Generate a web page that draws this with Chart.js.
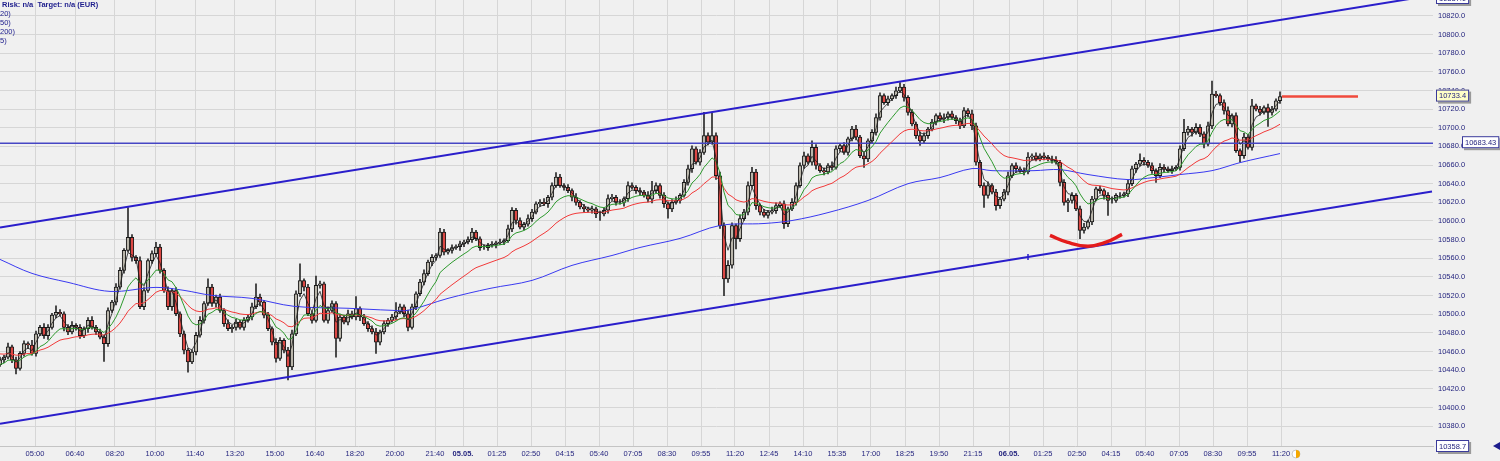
<!DOCTYPE html>
<html>
<head>
<meta charset="utf-8">
<script src="https://cdn.jsdelivr.net/npm/chart.js@4/dist/chart.umd.min.js"></script>
<style>
  html, body { margin: 0; padding: 0; background: #f0f0f0; overflow: hidden; }
</style>
</head>
<body>
<canvas id="priceChart" width="1500" height="461"></canvas>
<script>
// 10-min candles, open = previous close
const closes = [
  10451,10454,10465,10451,10442,10458,10468.5,10467,10458,10479,10486,10477,10486,10499,10502,10500.5,10486,10481,10488,10486,
  10477,10484.5,10493.5,10486,10481,10475.5,10468.5,10504,10513,10529,10547,10568.5,10582.5,10561,10557.5,10508,10525.5,10557.5,10565,10572,
  10547,10525.5,10508,10525.5,10500.5,10479,10461.5,10449,10459.5,10477.5,10493.5,10511.5,10529,10511.5,10518.5,10504,10490,10484.5,10486,10491.5,
  10486,10493.5,10497,10508,10518.5,10513,10499,10484.5,10470,10452.5,10472,10461.5,10443.5,10479,10522,10536,10529,10500.5,10493.5,10531,
  10532.5,10493.5,10504,10511.5,10474,10497,10491.5,10500.5,10497,10506,10497,10490,10484.5,10481,10470,10481,10490,10493.5,10497,10502.5,
  10508,10500.5,10486,10508,10522,10534.5,10543.5,10556,10561,10563,10588,10566.5,10568.5,10571.5,10572.5,10575.5,10577.5,10580,10588,10581,
  10571.5,10571.5,10574,10575,10576.5,10577.5,10579,10591.5,10611.5,10600.5,10593.5,10596.5,10602.5,10609.5,10618.5,10620,10618.5,10625.5,10638,10647,
  10638,10636,10632.5,10625.5,10620,10615,10613,10611.5,10613,10607.5,10607.5,10611.5,10624,10625.5,10620,10620,10624,10638,10636,10632.5,
  10631,10627.5,10623.5,10632.5,10638,10627.5,10618.5,10613,10620,10622,10627.5,10641.5,10656,10677.5,10663,10673.5,10691.5,10684.5,10691.5,10648.5,
  10595,10538,10552.5,10595,10581,10602.5,10609.5,10638,10652.5,10616.5,10609.5,10606,10609.5,10611,10616.5,10618.5,10597,10613,10620,10638,
  10659.5,10670,10663,10679,10659.5,10654,10652.5,10659.5,10657.5,10677.5,10681,10673.5,10688,10698.5,10690,10670,10666.5,10686,10695,10711,
  10734.5,10727,10731,10734.5,10739.5,10743.5,10732.5,10716.5,10704,10691.5,10686,10691.5,10698.5,10706,10713,10709.5,10711,10715,10711,10707.5,
  10702,10718.5,10715,10702,10663,10638,10627.5,10638,10631,10616.5,10623.5,10631,10648.5,10659.5,10656,10654,10652.5,10668.5,10670,10666.5,
  10670,10668.5,10666.5,10665,10663,10641.5,10620,10622,10627.5,10613,10590,10593.5,10599,10623.5,10634.5,10632.5,10627.5,10622,10622,10627.5,
  10627.5,10629,10640,10656,10661,10665,10663,10659.5,10654,10648.5,10657.5,10656,10654,10656,10657.5,10677.5,10695,10698.5,10695,10700.5,
  10693.5,10682.5,10702,10736,10734.5,10727,10718.5,10704,10713,10675.5,10670,10690,10679,10723.5,10720,10716.5,10721.5,10716.5,10720,10729,10733.4
];
const firstOpen = 10446;

// wick length above / below the body, in points
const upWick = [
  3,2,4,2,3,2,3,2,5,3,2,4,3,2,7,3,2,3,4,2,
  3,2,3,4,2,3,2,3,2,4,3,2,32,3,2,4,3,2,3,5,
  3,2,4,2,3,2,3,2,2,3,4,2,9,3,2,3,2,4,2,3,
  2,3,2,4,14,3,2,3,2,4,3,2,3,4,3,18,2,3,2,10,
  3,2,4,3,2,3,2,4,3,13,2,3,2,3,4,2,3,2,3,10,
  3,2,4,3,2,3,4,2,3,2,4,3,2,3,2,3,2,3,4,2,
  2,3,2,3,2,3,2,4,3,2,3,2,4,3,2,3,4,2,3,5,
  3,2,3,2,4,2,3,2,3,2,3,2,4,3,2,3,2,4,3,2,
  3,2,4,10,3,2,3,2,3,4,2,3,4,3,2,3,25,3,24,3,
  4,3,5,3,2,4,3,4,5,3,2,3,2,4,3,2,3,2,4,3,
  3,4,2,7,3,2,3,2,4,3,2,3,2,3,4,2,3,2,3,4,
  3,2,3,2,4,5,3,2,3,2,4,3,2,3,2,3,4,2,3,2,
  3,3,2,4,3,2,3,4,2,3,2,3,4,2,3,2,3,5,2,3,
  2,3,2,3,4,2,3,2,3,2,3,4,2,3,2,3,2,3,4,2,
  3,2,4,3,2,7,3,2,3,2,4,3,2,3,2,3,14,3,2,4,
  3,2,4,14,3,2,3,4,2,3,2,4,3,7,2,3,2,4,3,2,5
];
const dnWick = [
  2,3,2,3,6,2,3,4,2,3,2,3,4,2,3,2,4,3,2,3,
  3,2,4,2,3,2,19,3,2,3,2,3,2,4,3,2,3,2,3,2,
  3,2,3,4,2,3,4,11,2,3,2,3,2,3,4,2,3,2,4,3,
  2,3,2,3,2,4,3,2,3,4,2,3,14,3,2,3,4,2,3,2,
  3,2,3,2,20,3,2,3,2,3,4,2,3,2,12,3,2,3,2,3,
  2,3,4,2,3,2,3,2,4,3,2,3,2,3,2,4,3,2,3,2,
  3,2,3,2,4,2,3,2,3,4,2,3,2,3,2,3,2,4,3,2,
  2,3,2,4,3,2,3,2,3,4,7,2,3,2,3,2,4,3,2,3,
  3,2,3,4,2,3,4,10,3,2,3,2,3,4,2,3,2,3,2,4,
  3,18,4,3,11,3,2,3,2,4,3,2,3,2,3,2,5,3,2,3,
  2,3,2,3,4,2,3,2,3,2,3,2,3,2,3,2,9,3,2,3,
  3,2,3,2,3,2,4,3,2,3,5,2,3,2,3,2,4,3,2,3,
  3,2,3,4,3,2,13,3,2,5,3,2,3,2,4,2,3,2,3,2,
  2,3,2,3,2,4,3,10,3,2,9,3,2,3,2,3,4,16,3,2,
  3,2,3,2,4,2,3,2,3,7,2,3,2,3,2,3,2,3,4,2,
  3,4,2,3,2,3,4,2,3,2,7,3,2,3,2,3,2,15,3,2,3
];

// 200 average
const maSlowIdx = [0,8,17,27.5,39,46,53,63,73.5,87,98,102,112,122.5,133,143,153,160,170,180,191,198,207,217,227,235,243,248,258.5,265,272,282,288.5,295,303,310,320];
const maSlowVal = [10558.8,10543.8,10534.2,10524.5,10528.8,10525.6,10520.2,10517,10508.5,10506.4,10504.2,10504.2,10517,10527.7,10536.3,10552.4,10563,10571.6,10581.3,10595.2,10597.3,10600.5,10609,10622,10640,10646.6,10656.2,10654,10654,10655.1,10649.8,10644.4,10646.6,10649.8,10654,10662.6,10672.3];
const maSeed = [10452, 10445, 10458]; // starting values of the 5, 20 and 50 averages

// trend channel and marks
const channelIdx = [0, 358];
const upperChannel = [10593, 10842];
const lowerChannel = [10382.6, 10631.7];
const channelMarkIdx = 257;
const levelLine = 10683.43;
const lastPrice = 10733.4;
const lastLineIdx = [320.5, 339.5];
const arcIdx = [262.5, 266.75, 272, 276.5, 280.5];
const arcVal = [10584.5, 10577.3, 10573, 10577.3, 10585.6];

const tickPos = [8.75,18.75,28.75,38.75,48.75,58.75,68.75,78.75,88.75,98.75,108.75,115.75,
  124.25,132.75,141.25,149.75,158.25,166.75,175.25,183.75,192.25,200.75,209.25,217.75,226.25,234.75,243.25,252.25,
  260.75,269.25,277.75,286.25,294.75,303.25,311.75,320.25];
const tickLabels = ["05:00","06:40","08:20","10:00","11:40","13:20","15:00","16:40","18:20","20:00","21:40","05.05.",
  "01:25","02:50","04:15","05:40","07:05","08:30","09:55","11:20","12:45","14:10","15:35","17:00","18:25","19:50","21:15","06.05.",
  "01:25","02:50","04:15","05:40","07:05","08:30","09:55","11:20"];
const priceTicks = [10380,10400,10420,10440,10460,10480,10500,10520,10540,10560,10580,10600,10620,10640,10660,10680,10700,10720,10740,10760,10780,10800,10820];
const yMin = 10358.7, yMax = 10837.0;
const legendRows = ["(20)", "(50)", "(200)", "(5)"];

const opens = closes.map((c, i) => i === 0 ? firstOpen : closes[i - 1]);
const bodies = closes.map((c, i) => ({ x: i, y: [opens[i], c] }));
const wicks = closes.map((c, i) => ({
  x: i,
  y: [Math.min(opens[i], c) - dnWick[i], Math.max(opens[i], c) + upWick[i]]
}));
const bodyColors = closes.map((c, i) => c >= opens[i] ? '#bab6ab' : '#dc4844');

function ema(period, seed) {
  let v = seed;
  return closes.map((c, i) => {
    v = v + (c - v) * 2 / (period + 1);
    return { x: i, y: v };
  });
}

const FONT = '"Liberation Sans", Arial, sans-serif';
const NAVY = '#25257f';

function tag(c, text, x, y, bg) {
  c.font = '7.5px ' + FONT;
  const w = c.measureText(text).width + 6;
  c.fillStyle = '#9a9a9a';
  c.fillRect(x + 2, y - 5, w, 12);
  c.fillStyle = bg;
  c.fillRect(x, y - 7, w, 12);
  c.strokeStyle = '#3a3a9a';
  c.lineWidth = 1;
  c.strokeRect(x + 0.5, y - 6.5, w - 1, 11);
  c.fillStyle = NAVY;
  c.textBaseline = 'middle';
  c.textAlign = 'left';
  c.fillText(text, x + 3, y - 0.5);
}

const overlay = {
  id: 'overlay',
  beforeDraw(chart) {
    const c = chart.ctx;
    c.save();
    c.fillStyle = '#f0f0f0';
    c.fillRect(0, 0, chart.width, chart.height);
    c.restore();
  },
  afterDraw(chart) {
    const c = chart.ctx, ys = chart.scales.y, xs = chart.scales.x, area = chart.chartArea;
    c.save();
    c.textBaseline = 'middle';
    c.textAlign = 'left';
    c.fillStyle = '#1c1c8c';
    c.font = 'bold 7.5px ' + FONT;
    c.fillText('Risk: n/a  Target: n/a (EUR)', 2, 4.5);
    c.font = '7.5px ' + FONT;
    legendRows.forEach((t, k) => c.fillText(t, -2.5, 13.5 + 9 * k));

    tag(c, yMax.toFixed(1), area.right + 3, ys.getPixelForValue(yMax) - 1, '#ffffff');
    tag(c, lastPrice.toFixed(1), area.right + 3, ys.getPixelForValue(lastPrice), '#ffffc8');
    tag(c, levelLine.toFixed(2), area.right + 29, ys.getPixelForValue(levelLine), '#ffffff');
    tag(c, yMin.toFixed(1), area.right + 3, ys.getPixelForValue(yMin) + 1, '#ffffff');

    // small clock after the last time label
    const cx = xs.getPixelForValue(tickPos[tickPos.length - 1]) + 15, cy = 454;
    c.beginPath(); c.arc(cx, cy, 4, 0, Math.PI * 2);
    c.fillStyle = '#ffffff'; c.fill();
    c.strokeStyle = '#c8c8c8'; c.stroke();
    c.beginPath(); c.moveTo(cx, cy); c.arc(cx, cy, 4, -Math.PI / 2, Math.PI / 2);
    c.fillStyle = '#f5a800'; c.fill();
    // scroll arrow bottom right
    c.beginPath(); c.moveTo(1493, 446); c.lineTo(1500, 442); c.lineTo(1500, 450); c.closePath();
    c.fillStyle = '#1c1c8c'; c.fill();
    c.restore();
  }
};

new Chart(document.getElementById('priceChart'), {
  type: 'bar',
  data: {
    datasets: [
      {
        type: 'line', data: [{ x: lastLineIdx[0], y: lastPrice }, { x: lastLineIdx[1], y: lastPrice }],
        borderColor: '#f04a3c', borderWidth: 2.5, pointRadius: 0, order: 0
      },
      {
        type: 'line', data: arcIdx.map((x, i) => ({ x, y: arcVal[i] })),
        borderColor: '#e41c1c', borderWidth: 3.5, pointRadius: 0, tension: 0.45, order: 1
      },
      {
        type: 'line', data: channelIdx.map((x, i) => ({ x, y: upperChannel[i] })),
        borderColor: '#2a1ecb', borderWidth: 2, pointRadius: 0, order: 2
      },
      {
        type: 'line',
        data: [{ x: channelIdx[0], y: lowerChannel[0] }, { x: channelMarkIdx, y: lowerChannel[0] + (lowerChannel[1] - lowerChannel[0]) * channelMarkIdx / channelIdx[1] }, { x: channelIdx[1], y: lowerChannel[1] }],
        borderColor: '#2a1ecb', borderWidth: 2, order: 2,
        pointRadius: [0, 3, 0], pointStyle: 'line', rotation: 90, pointBorderColor: '#2a1ecb', pointBorderWidth: 1.5
      },
      {
        type: 'line', data: ema(3, maSeed[0]),
        borderColor: '#202020', borderWidth: 0.8, pointRadius: 0, order: 3
      },
      {
        type: 'line', data: ema(10, maSeed[1]),
        borderColor: '#2e9a2e', borderWidth: 1, pointRadius: 0, order: 4
      },
      {
        type: 'line', data: ema(25, maSeed[2]),
        borderColor: '#f23a3a', borderWidth: 1, pointRadius: 0, order: 5
      },
      {
        type: 'line', data: maSlowIdx.map((x, i) => ({ x, y: maSlowVal[i] })),
        borderColor: '#3a3af0', borderWidth: 1, pointRadius: 0, tension: 0.35, order: 6
      },
      {
        type: 'line', data: [{ x: 0, y: levelLine }, { x: 358.25, y: levelLine }],
        borderColor: '#4646c4', borderWidth: 1.5, pointRadius: 0, order: 7
      },
      {
        data: bodies, backgroundColor: bodyColors, borderColor: '#1a1a1a', borderWidth: 1,
        borderSkipped: false, barThickness: 3.6, grouped: false, order: 8
      },
      {
        data: wicks, backgroundColor: '#2a2a2a', borderWidth: 0,
        barThickness: 1, grouped: false, order: 9
      }
    ]
  },
  options: {
    responsive: false,
    animation: false,
    devicePixelRatio: 1,
    layout: { padding: 0 },
    plugins: { legend: { display: false }, tooltip: { enabled: false } },
    scales: {
      x: {
        type: 'linear', min: 0, max: 358.25, offset: false,
        afterBuildTicks: s => { s.ticks = tickPos.map(v => ({ value: v })); },
        afterFit: s => { s.height = 15; s.paddingLeft = 0; s.paddingRight = 0; },
        grid: { color: '#d6d6d6', offset: false, drawTicks: false },
        border: { color: '#c4c4c4' },
        ticks: {
          autoSkip: false, maxRotation: 0, padding: 3, color: NAVY,
          callback: (v, i) => tickLabels[i],
          font: ctx => ({ size: 7.5, family: FONT, weight: tickLabels[ctx.index] && tickLabels[ctx.index].indexOf('.') > 0 ? 'bold' : 'normal' })
        }
      },
      y: {
        position: 'right', min: yMin, max: yMax,
        afterBuildTicks: s => { s.ticks = priceTicks.map(v => ({ value: v })); },
        afterFit: s => { s.width = 67; s.paddingTop = 0; s.paddingBottom = 0; },
        grid: { color: '#d6d6d6', drawTicks: false },
        border: { display: false },
        ticks: { padding: 5, color: NAVY, font: { size: 7.5, family: FONT }, callback: v => v.toFixed(1) }
      }
    }
  },
  plugins: [overlay]
});
</script>
</body>
</html>
